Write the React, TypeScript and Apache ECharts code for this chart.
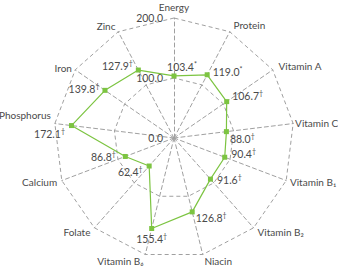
import React, { useEffect, useRef } from 'react';
import * as echarts from 'echarts';

// Data (clockwise from the top)
const indicators = ['Energy', 'Protein', 'Vitamin A', 'Vitamin C', 'Vitamin B₁', 'Vitamin B₂', 'Niacin', 'Vitamin B₆', 'Folate', 'Calcium', 'Phosphorus', 'Iron', 'Zinc'];
const values = [103.4, 119.0, 106.7, 88.0, 90.4, 91.6, 126.8, 155.4, 62.4, 86.8, 172.1, 139.8, 127.9];
const marks = ['*', '*', '†', '†', '†', '†', '†', '†', '†', '†', '†', '†', '†'];
const axisMin = 0;
const axisMax = 200;
const splitCount = 2; // ticks 0.0, 100.0, 200.0

// Value-label placement styles (per indicator)
const labelPlace: Record<string, { position: string; distance: number; offset: [number, number] }> = {
  'Energy': { position: 'top', distance: 2, offset: [8, 0] },
  'Protein': { position: 'right', distance: 5, offset: [0, -3] },
  'Vitamin A': { position: 'right', distance: 5, offset: [0, -6] },
  'Vitamin C': { position: 'right', distance: 3, offset: [0, 7] },
  'Vitamin B₁': { position: 'right', distance: 6, offset: [0, -3] },
  'Vitamin B₂': { position: 'right', distance: 6, offset: [0, 1] },
  'Niacin': { position: 'right', distance: 3, offset: [0, 6] },
  'Vitamin B₆': { position: 'bottom', distance: 3, offset: [0, 0] },
  'Folate': { position: 'left', distance: 6, offset: [0, 6] },
  'Calcium': { position: 'left', distance: 9, offset: [0, 1] },
  'Phosphorus': { position: 'left', distance: 6, offset: [0, 8] },
  'Iron': { position: 'left', distance: 5, offset: [0, -1] },
  'Zinc': { position: 'left', distance: 5, offset: [0, -4] },
};

// Axis-name placement styles (per indicator)
const nameGapOf: Record<string, number> = {
  'Energy': 6, 'Protein': 8, 'Vitamin A': 7, 'Vitamin C': 2, 'Vitamin B₁': 4, 'Vitamin B₂': 6,
  'Niacin': 7, 'Vitamin B₆': 7, 'Folate': 6, 'Calcium': 5, 'Phosphorus': 4, 'Iron': 4, 'Zinc': 6,
};
const raisedNames = ['Phosphorus'];

const FONT = 'Lato, "Open Sans", sans-serif';
const GREEN = '#7cc441';
const TEXT = '#4a4a4a';
const GRID = '#a0a0a0';

export default function App() {
  const ref = useRef<HTMLDivElement>(null);
  useEffect(() => {
    if (!ref.current) return;
    const chart = echarts.init(ref.current, undefined, { renderer: 'svg' });
    // ECharts places radar indicators counter-clockwise; reorder to get a clockwise layout
    const order = [0, ...indicators.slice(1).map((_, i) => indicators.length - 1 - i)];
    const orderedValues = order.map((i) => values[i]);
    const indicatorOpts = order.map((i) => {
      const name = indicators[i];
      const o: any = { name, min: axisMin, max: axisMax, nameGap: nameGapOf[name] };
      if (i === 0) {
        o.axisLabel = {
          show: true,
          formatter: (v: number) => v.toFixed(1),
          color: TEXT,
          fontSize: 10.5,
          fontFamily: FONT,
          margin: 11,
        };
      }
      return o;
    });

    const labelSeries = indicators.map((name, i) => {
      const p = labelPlace[name];
      return {
        type: 'radar',
        silent: true,
        z: 3,
        symbol: 'circle',
        symbolSize: 1,
        lineStyle: { width: 0, opacity: 0 },
        itemStyle: { color: 'rgba(0,0,0,0)' },
        data: [{ value: orderedValues }],
        label: {
          show: true,
          position: p.position,
          distance: p.distance,
          offset: p.offset,
          formatter: (params: any) => {
            const v = Array.isArray(params.value) ? NaN : params.value;
            if (v !== values[i]) return '';
            return `{v|${values[i].toFixed(1)}}{s|${marks[i]}}`;
          },
          rich: {
            v: { fontSize: 10.5, fontFamily: FONT, color: TEXT, lineHeight: 13 },
            s: { fontSize: 7, fontFamily: FONT, color: TEXT, verticalAlign: 'top', lineHeight: 13 },
          },
        },
      };
    });

    chart.setOption({
      animation: false,
      radar: {
        center: [174, 138],
        radius: 120,
        startAngle: 90,
        shape: 'polygon',
        splitNumber: splitCount,
        axisName: {
          color: TEXT,
          fontSize: 10,
          fontFamily: FONT,
          formatter: (name: string) => (raisedNames.includes(name) ? `{up|${name}}` : name),
          rich: {
            up: { color: TEXT, fontSize: 10, fontFamily: FONT, padding: [0, 0, 16, 0] },
          },
        },
        axisLine: { lineStyle: { color: GRID, type: [4, 3], width: 1 } },
        splitLine: { lineStyle: { color: GRID, type: [4, 3], width: 1 } },
        splitArea: { show: false },
        axisTick: { show: false },
        axisLabel: { show: false },
        indicator: indicatorOpts,
      },
      series: [
        {
          type: 'radar',
          z: 2,
          symbol: 'rect',
          symbolSize: 5,
          lineStyle: { color: GREEN, width: 1.2 },
          itemStyle: { color: GREEN },
          data: [{ value: orderedValues }],
        },
        ...labelSeries,
      ],
    });
    return () => chart.dispose();
  }, []);
  return (
    <div
      ref={ref}
      style={{ position: 'fixed', left: 0, top: 0, width: 338, height: 267, background: '#fff' }}
    />
  );
}
